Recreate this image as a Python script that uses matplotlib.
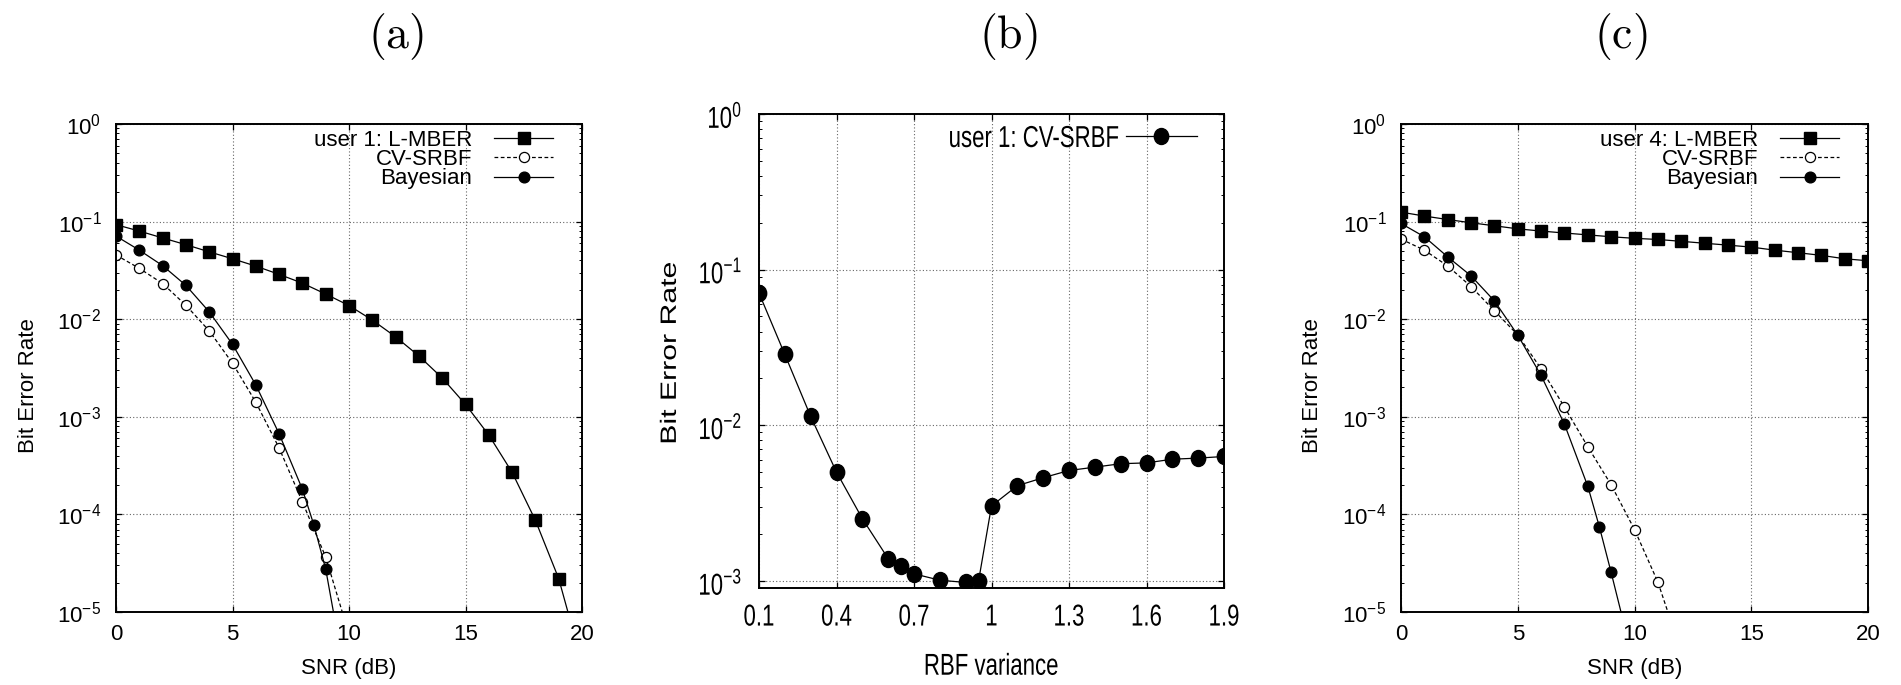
import matplotlib
matplotlib.use('Agg')
import matplotlib.pyplot as plt
import numpy as np
from matplotlib import font_manager
from matplotlib.path import Path
from matplotlib.transforms import Affine2D
from matplotlib.patheffects import AbstractPathEffect
from matplotlib.ticker import LogLocator, NullFormatter, FixedLocator, FixedFormatter

names = {f.name for f in font_manager.fontManager.ttflist}
SANS = 'Liberation Sans' if 'Liberation Sans' in names else 'DejaVu Sans'
plt.rcParams['font.family'] = [SANS, 'DejaVu Sans']
plt.rcParams['axes.unicode_minus'] = False

# ---- panel (a): user 1 ----
snr_a = [0, 1, 2, 3, 4, 5, 6, 7, 8, 9, 10, 11, 12, 13, 14, 15, 16, 17, 18, 19, 20]
lmber_a = [0.093, 0.080, 0.068, 0.058, 0.049, 0.0416, 0.035, 0.0288, 0.0234, 0.0181, 0.0138,
           0.0098, 0.0066, 0.0042, 0.0025, 0.00134, 6.5e-4, 2.7e-4, 8.7e-5, 2.2e-5, 3e-6]
snr_cv_a = [0, 1, 2, 3, 4, 5, 6, 7, 8, 9, 10]
cvsrbf_a = [0.0455, 0.0332, 0.0232, 0.0139, 0.0076, 0.00354, 0.00141, 4.8e-4, 1.34e-4, 3.66e-5, 5.9e-6]
snr_bay_a = [0, 1, 2, 3, 4, 5, 6, 7, 8, 8.5, 9, 9.5]
bayes_a = [0.0711, 0.051, 0.0354, 0.0222, 0.0119, 0.00553, 0.00212, 6.7e-4, 1.81e-4, 7.7e-5, 2.75e-5, 6e-6]

# ---- panel (b): RBF variance sweep ----
rbf_var = [0.1, 0.2, 0.3, 0.4, 0.5, 0.6, 0.65, 0.7, 0.8, 0.9, 0.95, 1.0,
           1.1, 1.2, 1.3, 1.4, 1.5, 1.6, 1.7, 1.8, 1.9]
ber_b = [0.0707, 0.0285, 0.0114, 0.0050, 0.00251, 0.00139, 0.00124, 0.00111, 0.00101, 0.000977, 0.0010,
         0.00303, 0.00409, 0.0046, 0.00512, 0.00538, 0.00566, 0.00573, 0.00605, 0.00615, 0.0063]
rbf_ticks = [0.1, 0.4, 0.7, 1.0, 1.3, 1.6, 1.9]
rbf_labels = ['0.1', '0.4', '0.7', '1', '1.3', '1.6', '1.9']

# ---- panel (c): user 4 ----
snr_c = [0, 1, 2, 3, 4, 5, 6, 7, 8, 9, 10, 11, 12, 13, 14, 15, 16, 17, 18, 19, 20]
lmber_c = [0.125, 0.114, 0.105, 0.0973, 0.0906, 0.0843, 0.080, 0.0764, 0.0731, 0.0699, 0.0674,
           0.0656, 0.0628, 0.060, 0.0574, 0.0548, 0.051, 0.048, 0.0451, 0.0416, 0.0397]
snr_cv_c = [0, 1, 2, 3, 4, 5, 6, 7, 8, 9, 10, 11, 12]
cvsrbf_c = [0.0662, 0.051, 0.0351, 0.0216, 0.0122, 0.0069, 0.0031, 0.00126, 4.93e-4, 2.01e-4, 7.0e-5, 2.03e-5, 3.9e-6]
snr_bay_c = [0, 1, 2, 3, 4, 5, 6, 7, 8, 8.5, 9, 9.5]
bayes_c = [0.0957, 0.0699, 0.0435, 0.0278, 0.0154, 0.00687, 0.00265, 8.4e-4, 1.94e-4, 7.4e-5, 2.54e-5, 8.4e-6]


class Stretch(AbstractPathEffect):
    # panel (b) of the original is squashed: text drawn taller than wide
    def __init__(self, sy, where='center'):
        super().__init__()
        self.sy = sy
        self.where = where

    def draw_path(self, renderer, gc, tpath, affine, rgbFace=None):
        bb = tpath.get_extents(affine)
        cy = bb.y1 if self.where == 'top' else 0.5 * (bb.y0 + bb.y1)
        t = affine + Affine2D().translate(0, -cy).scale(1, self.sy).translate(0, cy)
        renderer.draw_path(gc, tpath, t, rgbFace)


W, H = 1901, 685
fig = plt.figure(figsize=(W / 100, H / 100), dpi=100)

def px(l, t, r, b):
    return [l / W, 1 - b / H, (r - l) / W, (b - t) / H]

ax1 = fig.add_axes(px(116, 124, 582, 612))
ax2 = fig.add_axes(px(759, 114, 1224, 588))
ax3 = fig.add_axes(px(1401, 124, 1868, 612))

FS = 16
grid_kw = dict(color='0.4', linestyle=(0, (1, 2)), linewidth=0.8)

def style(ax, xpad, ypad):
    ax.set_yscale('log')
    ax.yaxis.set_major_locator(LogLocator(base=10, numticks=10))
    ax.yaxis.set_minor_locator(LogLocator(base=10, subs=np.arange(2, 10), numticks=10))
    ax.yaxis.set_minor_formatter(NullFormatter())
    ax.tick_params(which='both', direction='in', top=True, right=True)
    ax.tick_params(which='major', length=4.5, width=0.9, labelsize=FS)
    ax.tick_params(axis='x', pad=xpad)
    ax.tick_params(axis='y', pad=ypad)
    ax.tick_params(which='minor', length=2.5, width=0.7)
    ax.tick_params(axis='x', which='minor', bottom=False, top=False)
    for s in ax.spines.values():
        s.set_linewidth(1.4)
    ax.grid(True, which='major', **grid_kw)
    ax.set_axisbelow(True)

def right_legend(ax, anchor, **kw):
    leg = ax.legend(loc='upper right', bbox_to_anchor=anchor, frameon=False, markerfirst=False,
                    fontsize=FS, borderpad=0, borderaxespad=0, **kw)
    for col in leg._legend_handle_box.get_children():
        col.align = 'right'
    return leg

def snr_panel(ax, snr, lmber, snr_cv, cvsrbf, snr_bay, bayes, user):
    style(ax, 8.5, 10.5)
    ax.plot(snr, lmber, 'k-', marker='s', ms=9, lw=0.9, label='user %d: L-MBER' % user)
    ax.plot(snr_cv, cvsrbf, color='k', ls=(0, (3, 2)), marker='o', mfc='white', mew=0.9, ms=7.3,
            lw=0.9, label='CV-SRBF')
    ax.plot(snr_bay, bayes, 'k-', marker='o', ms=7.7, lw=0.9, label='Bayesian')
    ax.set_xlim(0, 20)
    ax.set_ylim(1e-5, 1)
    ax.set_xticks([0, 5, 10, 15, 20])
    ax.set_xlabel('SNR (dB)', fontsize=FS, va='top')
    ax.set_ylabel('Bit Error Rate', fontsize=FS)
    ax.xaxis.set_label_coords(0.5, -0.094)
    ax.yaxis.set_label_coords(-0.166, 0.463)
    right_legend(ax, (0.938, 0.988), handlelength=2.65, handletextpad=1.0, labelspacing=-0.08)

snr_panel(ax1, snr_a, lmber_a, snr_cv_a, cvsrbf_a, snr_bay_a, bayes_a, 1)
snr_panel(ax3, snr_c, lmber_c, snr_cv_c, cvsrbf_c, snr_bay_c, bayes_c, 4)

# panel (b)
SY = 1.36
circ = Path.unit_circle()
ellipse = Path(circ.vertices * [0.9, 1.0], circ.codes)
style(ax2, 11.5, 12)
ax2.plot(rbf_var, ber_b, 'k-', marker=ellipse, ms=11.5, lw=0.9, label='user 1: CV-SRBF')
ax2.set_xlim(0.1, 1.9)
ax2.set_ylim(9e-4, 1)
ax2.xaxis.set_major_locator(FixedLocator(rbf_ticks))
ax2.xaxis.set_major_formatter(FixedFormatter(rbf_labels))
ax2.set_xlabel('RBF variance', fontsize=FS, va='top')
ax2.set_ylabel('Bit Error Rate', fontsize=FS)
ax2.xaxis.set_label_coords(0.5, -0.137)
ax2.yaxis.set_label_coords(-0.168, 0.496)
leg2 = right_legend(ax2, (0.942, 0.970), handlelength=3.2, handletextpad=0.3)

fig.canvas.draw()
ax2.xaxis.label.set_path_effects([Stretch(SY, 'top')])
ax2.yaxis.label.set_path_effects([Stretch(SY)])
for t in leg2.get_texts():
    t.set_path_effects([Stretch(SY)])
for tk in ax2.xaxis.get_major_ticks():
    tk.label1.set_path_effects([Stretch(SY, 'top')])
for tk in ax2.yaxis.get_major_ticks():
    tk.label1.set_path_effects([Stretch(SY)])

for x, t in [(396, '(a)'), (1008, '(b)'), (1621, '(c)')]:
    fig.text(x / W, 1 - 37 / H, r'$\mathrm{' + t + '}$', fontsize=33, ha='center', va='center',
             math_fontfamily='cm')

fig.savefig('out.png', dpi=100)
